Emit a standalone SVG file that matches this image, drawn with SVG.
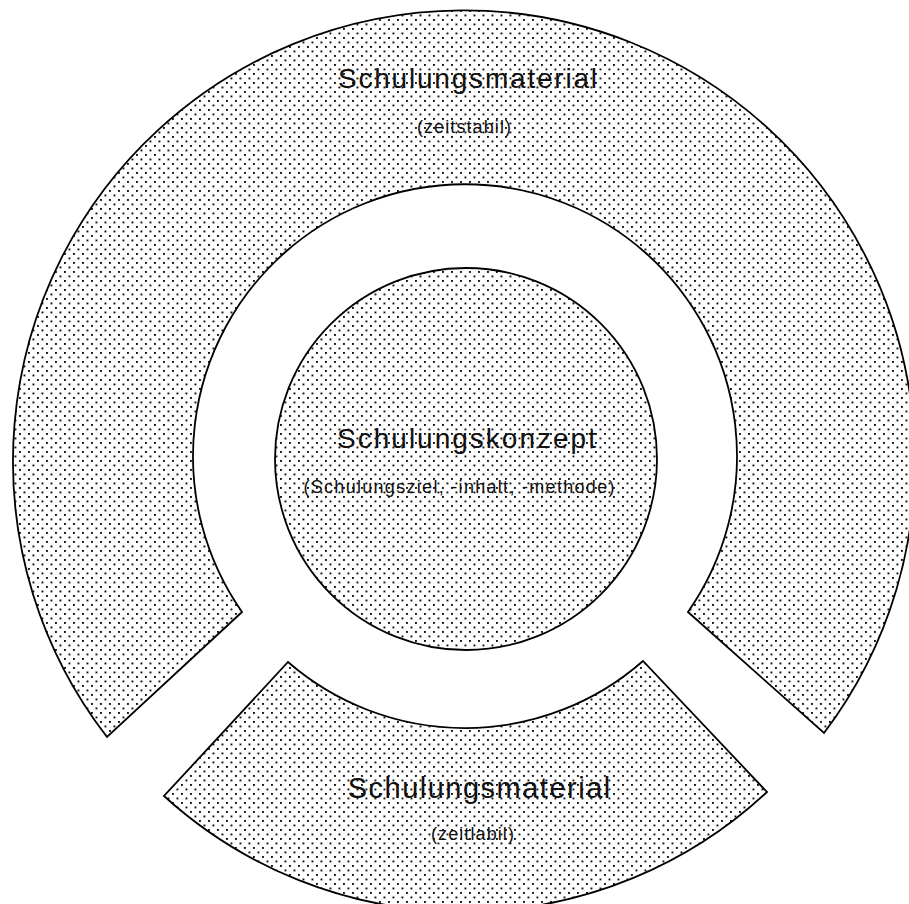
<svg xmlns="http://www.w3.org/2000/svg" width="909" height="904" viewBox="0 0 909 904">
  <defs>
    <pattern id="stipple" patternUnits="userSpaceOnUse" width="9" height="9">
      <rect x="1" y="1" width="1.9" height="1.9" fill="#111"/>
      <rect x="5.5" y="5.5" width="1.9" height="1.9" fill="#111"/>
    </pattern>
  </defs>
  <style>
    .shape { fill: url(#stipple); stroke: #000; stroke-width: 1.8; stroke-linejoin: miter; }
    .big { font-family: "Liberation Sans", Arial, sans-serif; font-size: 28px; fill: #111; text-anchor: middle; }
    .small { font-family: "Liberation Sans", Arial, sans-serif; font-size: 18px; fill: #111; text-anchor: middle; }
  </style>
  <rect width="909" height="904" fill="#fff"/>

  <g id="material-stable">
    <path class="shape" d="M 107 737 A 451 451 0 1 1 824 733 L 688 612 A 272 272 0 1 0 242 612 Z"/>
    <text class="big" x="468.4" y="88" letter-spacing="1.8">Schulungsmaterial</text>
    <text class="small" x="464.5" y="133" letter-spacing="1.1">(zeitstabil)</text>
  </g>

  <g id="concept">
    <circle class="shape" cx="466" cy="459" r="191"/>
    <text class="big" x="467.5" y="448" letter-spacing="2">Schulungskonzept</text>
    <text class="small" x="459.6" y="493" letter-spacing="1.3">(Schulungsziel, -inhalt, -methode)</text>
  </g>

  <g id="material-labile">
    <path class="shape" d="M 288 662 A 270 270 0 0 0 643 661 L 767 792 A 445 445 0 0 1 164 796 Z"/>
    <text class="big" x="479.7" y="798" style="font-size:29px" letter-spacing="1.5">Schulungsmaterial</text>
    <text class="small" x="473" y="840" letter-spacing="1.1">(zeitlabil)</text>
  </g>

  <g id="connectors"/>
</svg>
